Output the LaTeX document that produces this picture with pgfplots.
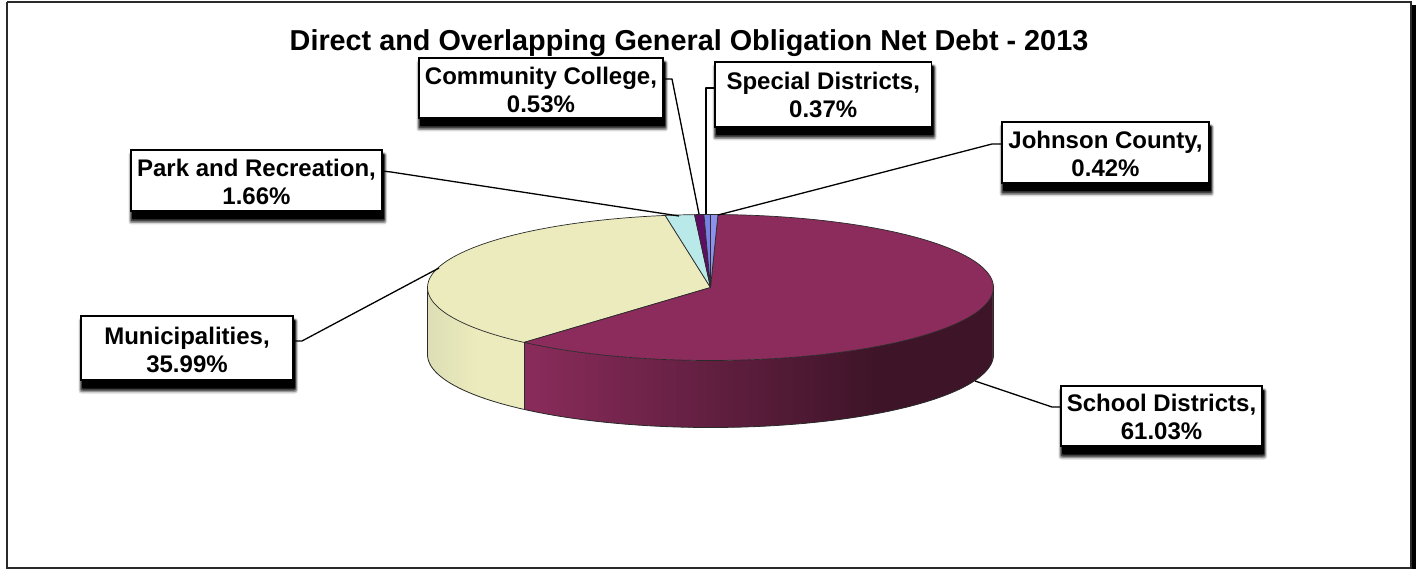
\documentclass[border=0pt]{standalone}
\usepackage{fontspec}
\setmainfont{Liberation Sans}
\usepackage{pgfplots}
\pgfplotsset{compat=1.18}

% Shares of the net debt, in percent
\def\shareJohnson{0.42}
\def\shareSchool{61.03}
\def\shareMuni{35.99}
\def\sharePark{1.66}
\def\shareCollege{0.53}
\def\shareSpecial{0.37}

\definecolor{pieSchool}{HTML}{8B2C5C}
\definecolor{pieSchoolDark}{HTML}{3E1428}
\definecolor{pieMuni}{HTML}{EBEBBD}
\definecolor{pieMuniDark}{HTML}{DEDEB6}
\definecolor{piePark}{HTML}{BAE9EA}
\definecolor{pieCollege}{HTML}{5E0F63}
\definecolor{pieSpecial}{HTML}{7A7FE2}
\definecolor{pieJohnson}{HTML}{8E90F0}
\definecolor{pieEdge}{HTML}{2A2A2A}

% Disc geometry on the page: centre, radii, thickness
\def\cx{710.5}
\def\cy{287.5}
\def\rx{283}
\def\ry{73}
\def\discdrop{67}

% Cumulative slice boundaries, clockwise from twelve o'clock
\pgfmathsetmacro\aJ{3.6*\shareJohnson}
\pgfmathsetmacro\aS{\aJ+3.6*\shareSchool}
\pgfmathsetmacro\aM{\aS+3.6*\shareMuni}
\pgfmathsetmacro\aP{\aM+3.6*\sharePark}
\pgfmathsetmacro\aC{\aP+3.6*\shareCollege}
\pgfmathsetmacro\aE{\aC+3.6*\shareSpecial}

% \arclist{\name}{from}{to}{drop}: rim points of the disc between two angles
\newcommand{\arclist}[4]{%
  \pgfmathtruncatemacro\nsteps{max(1,ceil((#3-#2)/1.5))}%
  \gdef#1{}%
  \foreach \i in {0,...,\nsteps}{%
    \pgfmathsetmacro\ang{#2+(#3-#2)*(\i/\nsteps)}%
    \pgfmathsetmacro\px{\cx+\rx*sin(\ang)}%
    \pgfmathsetmacro\py{\cy-\ry*cos(\ang)+#4}%
    \xdef#1{#1 (\px,\py)}%
  }%
}
% \slice{style}{from}{to}: one wedge of the top face
\newcommand{\slice}[3]{%
  \arclist{\rim}{#2}{#3}{0}%
  \edef\tmp{\noexpand\addplot[#1,draw=pieEdge,line width=0.7pt,line join=round]
    coordinates {(\cx,\cy) \rim\space (\cx,\cy)};}\tmp
}
% \wall{from}{to}{colour 1}{colour 2}{x1}{x2}: side wall, colour 2 at x1 blending to colour 1 at x2
\newcommand{\wall}[6]{%
  \pgfmathtruncatemacro\nwall{ceil((#2-#1)/1.5)}%
  \pgfmathtruncatemacro\nlast{\nwall-1}%
  \foreach \k in {0,...,\nlast}{%
    \pgfmathsetmacro\angA{#1+(#2-#1)*(\k/\nwall)}%
    \pgfmathsetmacro\angB{min(#2,#1+(#2-#1)*((\k+1.4)/\nwall))}%
    \pgfmathsetmacro\xA{\cx+\rx*sin(\angA)}%
    \pgfmathsetmacro\yA{\cy-\ry*cos(\angA)}%
    \pgfmathsetmacro\xB{\cx+\rx*sin(\angB)}%
    \pgfmathsetmacro\yB{\cy-\ry*cos(\angB)}%
    \pgfmathsetmacro\yAb{\yA+\discdrop}%
    \pgfmathsetmacro\yBb{\yB+\discdrop}%
    \pgfmathsetmacro\mixv{100*min(1,max(0,(\xA-#5)/(#6-#5)))}%
    \edef\tmp{\noexpand\addplot[fill={#3!\mixv!#4},draw=none]
      coordinates {(\xA,\yA) (\xB,\yB) (\xB,\yBb) (\xA,\yAb)};}\tmp
  }%
}
% \callout{left}{top}{right}{bottom}{text}{text drop}: boxed label with a soft drop shadow
\newcommand{\callout}[6]{%
  \fill[black,opacity=0.15,rounded corners=3pt] (#1-2.5,#2+2) rectangle (#3+5,#4+13.5);
  \fill[black,opacity=0.30,rounded corners=2pt] (#1-1.5,#2+3) rectangle (#3+4,#4+12);
  \fill[black,opacity=0.55,rounded corners=2pt] (#1-0.5,#2+3.5) rectangle (#3+3,#4+10.5);
  \fill[black,rounded corners=1pt] (#1+1,#2+4) rectangle (#3+2,#4+8.5);
  \fill[white,draw=black,line width=1.1pt] (#1,#2) rectangle (#3,#4);
  \node[align=center,inner sep=0pt,font=\fontsize{24}{28}\selectfont\bfseries,text=black]
    at ({(#1+#3)/2},{(#2+#4)/2+#6}) {#5};
}
\newcommand{\leader}[1]{\addplot[black,line width=1.3pt,line join=round] coordinates {#1};}

\begin{document}
\begin{tikzpicture}
\useasboundingbox (0,0) rectangle (1419pt,569pt);
\begin{axis}[
  at={(0,0)},anchor=south west,
  scale only axis,width=1419pt,height=569pt,
  xmin=0,xmax=1419,ymin=0,ymax=569,y dir=reverse,
  hide axis,clip=false,
]
  % Page frame with its heavy right-hand shadow
  \addplot[fill=black,draw=none] coordinates {(1411,5) (1416,5) (1416,569) (1411,569)};
  \addplot[fill=white,draw=none] coordinates {(7,2) (1411,2) (1411,568) (7,568)};
  \addplot[draw=pieEdge,line width=1.4pt] coordinates {(7,2) (1411,2) (1411,568) (7,568) (7,2)};

  % Side walls
  \wall{\aS}{270}{pieMuniDark}{pieMuni}{480}{427}
  \wall{90}{\aS}{pieSchool}{pieSchoolDark}{880}{524}

  % Wall outlines
  \arclist{\rimlow}{90}{270}{\discdrop}
  \edef\tmp{\noexpand\addplot[draw=pieEdge,line width=0.8pt]
    coordinates {(993.5,\cy) \rimlow\space (427.5,\cy)};}\tmp
  \pgfmathsetmacro\divx{\cx+\rx*sin(\aS)}
  \pgfmathsetmacro\divy{\cy-\ry*cos(\aS)}
  \pgfmathsetmacro\divyb{\divy+\discdrop}
  \edef\tmp{\noexpand\addplot[draw=pieEdge,line width=0.7pt]
    coordinates {(\divx,\divy) (\divx,\divyb)};}\tmp

  % Top face
  \slice{fill=pieMuni}{\aS}{\aM}
  \slice{fill=pieSchool}{\aJ}{\aS}
  \slice{fill=piePark}{\aM}{\aP}
  \slice{fill=pieCollege}{\aP}{\aC}
  \slice{fill=pieSpecial}{\aC}{\aE}
  \slice{fill=pieJohnson}{0}{\aJ}

  % Leader lines
  \leader{(382,171) (391,172) (679,216)}
  \leader{(663,79) (672,79) (699,214)}
  \leader{(715,88) (706,88) (706,214)}
  \leader{(1002,144) (992,144) (718,215)}
  \leader{(1061,407) (1052,407) (975,381)}
  \leader{(293,341) (302,341) (439,268)}

  % Title and labels
  \node[font=\fontsize{28.8}{34}\selectfont\bfseries,text=black] at (689,43)
    {Direct and Overlapping General Obligation Net Debt - 2013};
  \callout{419}{58}{663}{118}{Community College,\\\shareCollege\%}{2}
  \callout{715}{62}{931.5}{127}{Special Districts,\\\shareSpecial\%}{0.5}
  \callout{1002}{122}{1209}{183}{Johnson County,\\\shareJohnson\%}{1}
  \callout{131}{150}{382}{211}{Park and Recreation,\\\sharePark\%}{1}
  \callout{81}{316}{293}{380}{Municipalities,\\\shareMuni\%}{2}
  \callout{1061}{386}{1262}{446}{School Districts,\\\shareSchool\%}{0.5}
\end{axis}
\end{tikzpicture}
\end{document}
